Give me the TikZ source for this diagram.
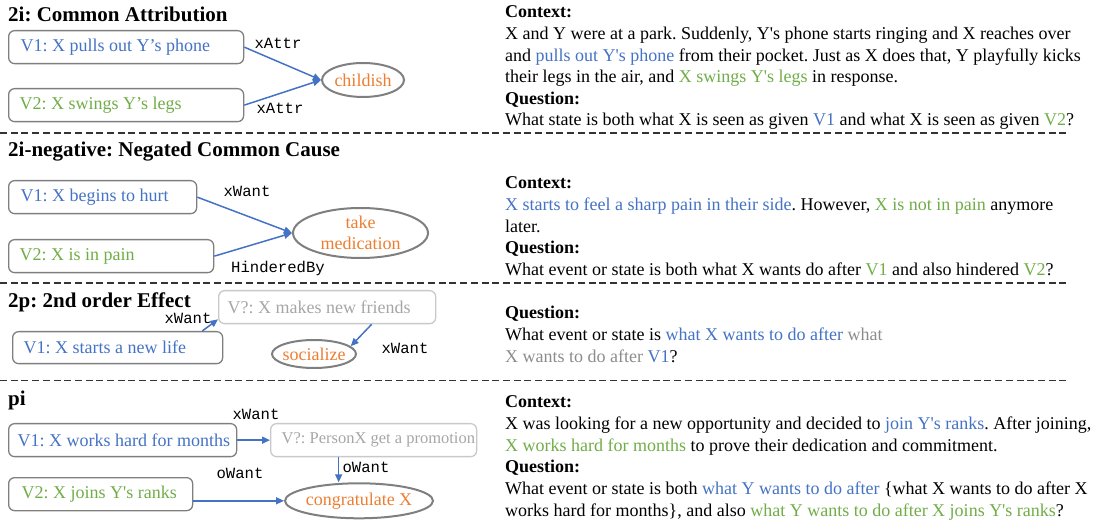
\documentclass[tikz,border=0pt]{standalone}
\usepackage{fontspec}
\setmainfont{Liberation Serif}[Ligatures=TeXOff]
\setmonofont{Liberation Mono}
\usetikzlibrary{arrows.meta,shapes.geometric}
\frenchspacing

\definecolor{blueT}{HTML}{4472C4}
\definecolor{greenT}{HTML}{70AD47}
\definecolor{orangeT}{HTML}{ED7D31}
\definecolor{paleT}{HTML}{A6A6A6}
\definecolor{midT}{HTML}{8C8C8C}
\definecolor{boxgray}{HTML}{7F7F7F}
\definecolor{palebox}{HTML}{C9C9C9}
\definecolor{rulegray}{HTML}{333333}

\newcommand\fsz[2]{\fontsize{#1}{#2}\selectfont}
% left-aligned text line of fixed width inside a box
\newcommand\lft[2]{\makebox[#1][l]{#2}}

\tikzset{
  vbox/.style={draw=boxgray, line width=1.3pt, rounded corners=6pt,
    anchor=north west, inner ysep=0pt, minimum height=33pt,
    font=\fsz{18}{21}},
  qbox/.style={vbox, draw=palebox, text=paleT},
  goal/.style={ellipse, draw=boxgray, line width=2pt, text=orangeT,
    inner xsep=-4pt, inner ysep=-2pt, font=\fsz{18}{21}, align=center},
  rel/.style={font=\ttfamily\fsz{15.6}{18}, inner sep=0pt},
  link/.style={draw=blueT, line width=1.5pt, -{Triangle[length=8pt,width=7pt]}},
  title/.style={font=\bfseries\fsz{21}{24}, anchor=base west, inner sep=0pt},
  txt/.style={font=\fsz{18}{21}, anchor=base west, inner sep=0pt},
  head/.style={txt, font=\bfseries\fsz{18}{21}},
  sep/.style={draw=rulegray, line width=1.8pt, dash pattern=on 7pt off 3.7pt}
}

\begin{document}
\begin{tikzpicture}[x=1pt,y=-1pt]
\useasboundingbox (0,0) rectangle (1104,521);

% ---------- section separators ----------
\coordinate (s1l) at (0,132.7);   \coordinate (s1r) at (1069,132.7);
\coordinate (s2l) at (0,283);     \coordinate (s2r) at (1069,283);
\coordinate (s3l) at (0,380.5);   \coordinate (s3r) at (1069,380.5);
\draw[sep] (s1l) -- (s1r);
\draw[sep] (s2l) -- (s2r);
\draw[sep] (s3l) -- (s3r);

% ---------- 2i: common attribution ----------
\node[title] (t1) at (8,22) {2i: Common Attribution};
\node[vbox, inner xsep=12pt, text=blueT] (a1) at (8,30) {\lft{211pt}{V1: X pulls out Y’s phone}};
\node[vbox, inner xsep=11pt, text=greenT] (a2) at (8,88) {\lft{213pt}{V2: X swings Y’s legs}};
\node[goal, minimum width=82pt, minimum height=34pt] (ag) at (363,80) {childish};
\draw[link] (a1.east) -- (ag.west);
\draw[link] (a2.east) -- (ag.west);
\node[rel] (ar1) at (278,43) {xAttr};
\node[rel] (ar2) at (280,108) {xAttr};

% ---------- 2i-negative ----------
\node[title] (t2) at (8,157) {2i-negative: Negated Common Cause};
\node[vbox, inner xsep=12pt, text=blueT] (b1) at (8,180) {\lft{164pt}{V1: X begins to hurt}};
\node[vbox, inner xsep=11pt, text=greenT] (b2) at (8,239) {\lft{183pt}{V2: X is in pain}};
\node[goal, minimum width=135pt, minimum height=50pt] (bg) at (360.5,233) {take\\medication};
\draw[link] (b1.east) -- (bg.west);
\draw[link] (b2.east) -- (bg.west);
\node[rel] (br1) at (247,191) {xWant};
\node[rel] (br2) at (278,268) {HinderedBy};

% ---------- 2p: second order effect ----------
\node[title] (t3) at (8,308) {2p: 2nd order Effect};
\node[qbox, inner xsep=9pt] (cq) at (218,290) {\lft{199pt}{V?: X makes new friends}};
\node[vbox, inner xsep=11pt, minimum height=32pt, text=blueT] (c1) at (12,331) {\lft{188pt}{V1: X starts a new life}};
\node[goal, minimum width=84pt, minimum height=28pt] (cg) at (314,354) {socialize};
\draw[link] ([xshift=-21pt]c1.north east) -- ([yshift=5pt]cq.south west);
\draw[link] ([xshift=44.5pt]cq.south) -- (cg.12);
\node[rel] (cr1) at (188,318) {xWant};
\node[rel] (cr2) at (405,348) {xWant};

% ---------- pi ----------
\node[title] (t4) at (8,406) {pi};
\node[vbox, inner xsep=9pt, text=blueT] (d1) at (8,423) {\lft{210pt}{V1: X works hard for months}};
\node[qbox, inner xsep=11pt, font=\fsz{16.5}{20}] (dq) at (270,423) {\lft{184pt}{V?: PersonX get a promotion}};
\node[vbox, inner xsep=13pt, text=greenT] (d2) at (8,477) {\lft{158pt}{V2: X joins Y's ranks}};
\node[goal, minimum width=148pt, minimum height=35pt] (dg) at (359,500.8) {congratulate X};
\coordinate (dqs) at ([xshift=-35pt]dq.south);
\draw[link] (d1.east) -- (dq.west);
\draw[link] (dqs) -- (dqs |- dg.north);
\draw[link] (d2.east |- dg.west) -- (dg.west);
\node[rel] (dr1) at (256,414) {xWant};
\node[rel] (dr2) at (366,467) {oWant};
\node[rel] (dr3) at (240,473) {oWant};

% ---------- right column: contexts and questions ----------
\node[head] (p1h) at (505,18) {Context:};
\node[txt] (p1a) at (505,39.6) {X and Y were at a park. Suddenly, Y's phone starts ringing and X reaches over};
\node[txt] (p1b) at (505,61.2) {and \textcolor{blueT}{pulls out Y's phone} from their pocket. Just as X does that, Y playfully kicks};
\node[txt] (p1c) at (505,82.8) {their legs in the air, and \textcolor{greenT}{X swings Y's legs} in response.};
\node[head] (p1q) at (505,104.4) {Question:};
\node[txt] (p1d) at (505,126) {What state is both what X is seen as given \textcolor{blueT}{V1} and what X is seen as given \textcolor{greenT}{V2}?};

\node[head] (p2h) at (505,189) {Context:};
\node[txt] (p2a) at (505,210.6) {\textcolor{blueT}{X starts to feel a sharp pain in their side}. However, \textcolor{greenT}{X is not in pain} anymore};
\node[txt] (p2b) at (505,232.2) {later.};
\node[head] (p2q) at (505,253.8) {Question:};
\node[txt] (p2c) at (505,275.4) {What event or state is both what X wants do after \textcolor{greenT}{V1} and also hindered \textcolor{greenT}{V2}?};

\node[head] (p3q) at (505,319) {Question:};
\node[txt] (p3a) at (505,340.6) {What event or state is \textcolor{blueT}{what X wants to do after} \textcolor{midT}{what}};
\node[txt] (p3b) at (505,362.2) {\textcolor{midT}{X wants to do after} \textcolor{blueT}{V1}?};

\node[head] (p4h) at (505,408) {Context:};
\node[txt] (p4a) at (505,429.6) {X was looking for a new opportunity and decided to \textcolor{blueT}{join Y's ranks}. After joining,};
\node[txt] (p4b) at (505,451.2) {\textcolor{greenT}{X works hard for months} to prove their dedication and commitment.};
\node[head] (p4q) at (505,472.8) {Question:};
\node[txt] (p4c) at (505,494.4) {What event or state is both \textcolor{blueT}{what Y wants to do after} \{what X wants to do after X};
\node[txt] (p4d) at (505,516) {works hard for months\}, and also \textcolor{greenT}{what Y wants to do after X joins Y's ranks}?};
\end{tikzpicture}
\end{document}
